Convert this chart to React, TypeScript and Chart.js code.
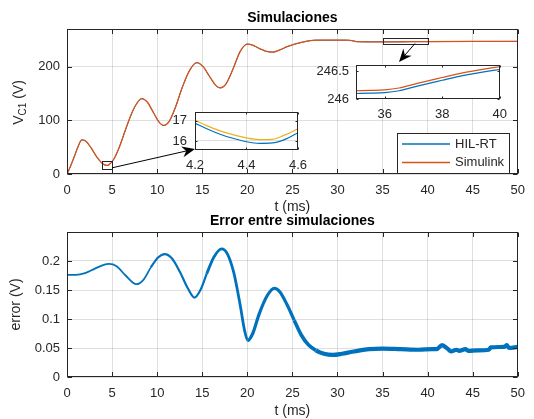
import React, { useEffect, useRef } from "react";
import { Chart, registerables } from "chart.js";
Chart.register(...registerables);

const FONT = '"Liberation Sans", Arial, Helvetica, sans-serif';
const AXIS = "#262626";
const GRID = "rgba(38,38,38,0.15)";
const BLUE = "#0072BD";
const ORANGE = "#D95319";
const YELLOW = "#EDB120";

// ---------------- data ----------------
const tMain = [0, 0.4, 0.8, 1.2, 1.64, 2.1, 2.7, 3.3, 3.9, 4.2, 4.45, 4.6, 5.2, 5.8, 6.5, 7.2, 7.8, 8.3, 8.9, 9.6, 10.2, 10.7, 11.3, 12, 12.8, 13.6, 14.4, 15.1, 15.8, 16.5, 17.0, 17.6, 18.4, 19.2, 20.0, 20.6, 21.3, 22.0, 22.8, 23.6, 24.4, 25.0, 26, 27, 27.6, 29, 31, 31.6, 32.2, 33, 35, 36.5, 38, 40, 45, 50];
const vSimulink = [0, 15, 32, 50, 63.5, 61, 48, 32, 20, 17.0, 16.05, 16.6, 28, 50, 83, 114, 133, 140.5, 134, 114, 97, 90.5, 97, 123, 162, 193, 207.5, 200, 182, 165, 160.5, 167, 195, 228, 242, 240, 234, 229, 227, 231, 237, 240.6, 245, 248.5, 249.2, 249.3, 249.2, 248.5, 246.4, 246.15, 246.15, 246.2, 246.4, 246.59, 246.85, 246.95];
const vHil = [0, 14.8, 31.8, 49.8, 63.3, 60.8, 47.8, 31.8, 19.8, 16.85, 15.88, 16.41, 27.8, 49.8, 82.8, 113.8, 132.8, 140.3, 133.8, 113.8, 96.8, 90.3, 96.8, 122.8, 161.8, 192.8, 207.3, 199.8, 181.9, 164.8, 160.3, 166.8, 194.8, 227.8, 241.9, 239.9, 233.9, 228.9, 226.9, 230.9, 236.9, 240.5, 244.9, 248.4, 249.1, 249.2, 249.15, 248.45, 246.35, 246.1, 246.1, 246.15, 246.35, 246.53, 246.8, 246.9];

const tErr = [0, 1.0, 2.0, 3.0, 4.0, 4.65, 5.5, 6.5, 7.7, 8.5, 9.3, 10.1, 10.85, 11.6, 12.5, 13.4, 14.15, 14.8, 15.5, 16.3, 17.15, 17.8, 18.5, 19.2, 19.7, 20.05, 20.6, 21.3, 22.2, 23.0, 23.6, 24.4, 25.2, 26.0, 26.8, 27.6, 28.5, 29.5, 30.5, 31.5, 32.5, 33.5, 35, 37, 39, 40.5, 41.0, 41.6, 42.2, 42.6, 43.2, 43.5, 44.2, 44.5, 45.5, 46.8, 47.0, 48.5, 48.8, 49.0, 50];
const vErr = [0.176, 0.176, 0.179, 0.186, 0.193, 0.195, 0.191, 0.175, 0.160, 0.168, 0.189, 0.206, 0.212, 0.205, 0.182, 0.153, 0.137, 0.150, 0.178, 0.207, 0.221, 0.212, 0.180, 0.125, 0.080, 0.063, 0.075, 0.108, 0.140, 0.153, 0.147, 0.125, 0.098, 0.072, 0.055, 0.046, 0.040, 0.038, 0.040, 0.043, 0.046, 0.048, 0.049, 0.048, 0.047, 0.048, 0.048, 0.055, 0.049, 0.044, 0.047, 0.045, 0.048, 0.045, 0.046, 0.047, 0.051, 0.052, 0.055, 0.050, 0.052];

const tZoomA = [4.2, 4.25, 4.3, 4.35, 4.4, 4.45, 4.5, 4.55, 4.6];
const zoomASimulink = [17.03, 16.74, 16.49, 16.3, 16.15, 16.07, 16.08, 16.3, 16.6];
const zoomAHil = [16.88, 16.58, 16.32, 16.12, 15.96, 15.88, 15.9, 16.08, 16.41];

const tZoomB = [35, 35.5, 36, 36.5, 37, 37.5, 38, 38.5, 39, 39.5, 40];
const zoomBSimulink = [246.15, 246.155, 246.165, 246.2, 246.265, 246.33, 246.39, 246.45, 246.5, 246.545, 246.585];
const zoomBHil = [246.1, 246.105, 246.115, 246.15, 246.215, 246.28, 246.34, 246.4, 246.45, 246.495, 246.535];

const xTicksMain = [0, 5, 10, 15, 20, 25, 30, 35, 40, 45, 50];
const yTicksMain = [0, 100, 200];
const yTicksErr = [0, 0.05, 0.1, 0.15, 0.2];
const xTicksZoomA = [4.2, 4.4, 4.6];
const yTicksZoomA = [16, 17];
const xTicksZoomB = [36, 38, 40];
const yTicksZoomB = [246, 246.5];

const zoomRectA = { x0: 3.85, x1: 5.0, y0: 9.3, y1: 23.7 };
const zoomRectB = { x0: 35, x1: 40, y0: 243, y1: 253.6 };

const legendLabels = ["HIL-RT", "Simulink"];

// ---------------- layout ----------------
const TOP = { left: 0, top: 0, width: 534, height: 215, area: { left: 67, top: 29, right: 527, bottom: 174 } };
const BOT = { left: 0, top: 205, width: 534, height: 214, area: { left: 67, top: 27, right: 527, bottom: 172 } };
const INA = { left: 160, top: 96, width: 155, height: 80, area: { left: 35, top: 10, right: 148, bottom: 54 } };
const INB = { left: 300, top: 50, width: 215, height: 75, area: { left: 56, top: 11, right: 206, bottom: 49 } };

const fmt = (v: number) => String(Math.round(v * 1000) / 1000);
const pts = (xs: number[], ys: number[]) => xs.map((x, i) => ({ x, y: ys[i] }));

function scaleX(min: number, max: number, ticks: number[], height: number, grid: boolean, pad: number) {
  return {
    type: "linear", min, max, position: "bottom",
    afterBuildTicks: (s: any) => { s.ticks = ticks.map((v) => ({ value: v })); },
    afterFit: (s: any) => { s.height = height; },
    grid: { display: grid, color: GRID, lineWidth: 1, drawTicks: false },
    border: { display: false },
    ticks: { padding: pad, color: AXIS, font: { family: FONT, size: 13 }, maxRotation: 0, autoSkip: false, callback: (v: any) => fmt(+v) },
  };
}
function scaleY(min: number, max: number, ticks: number[], width: number, grid: boolean, pad: number) {
  return {
    type: "linear", min, max, position: "left",
    afterBuildTicks: (s: any) => { s.ticks = ticks.map((v) => ({ value: v })); },
    afterFit: (s: any) => { s.width = width; },
    grid: { display: grid, color: GRID, lineWidth: 1, drawTicks: false },
    border: { display: false },
    ticks: { padding: pad, color: AXIS, font: { family: FONT, size: 13 }, autoSkip: false, callback: (v: any) => fmt(+v) },
  };
}

function framePlugin(tickLen: number, whiteBg: boolean) {
  return {
    id: "frame",
    beforeDraw(chart: any) {
      if (!whiteBg) return;
      const a = chart.chartArea;
      const ctx = chart.ctx;
      ctx.save();
      ctx.fillStyle = "#ffffff";
      ctx.fillRect(a.left, a.top, a.right - a.left, a.bottom - a.top);
      ctx.restore();
    },
    afterDraw(chart: any) {
      const { ctx, chartArea: a, scales } = chart;
      ctx.save();
      ctx.strokeStyle = AXIS;
      ctx.lineWidth = 1;
      const l = Math.round(a.left) + 0.5, t = Math.round(a.top) + 0.5;
      const r = Math.round(a.right) - 0.5, b = Math.round(a.bottom) - 0.5;
      ctx.beginPath();
      for (const tk of scales.x.ticks) {
        const px = Math.round(scales.x.getPixelForValue(tk.value)) + 0.5;
        ctx.moveTo(px, b); ctx.lineTo(px, b - tickLen);
        ctx.moveTo(px, t); ctx.lineTo(px, t + tickLen);
      }
      for (const tk of scales.y.ticks) {
        const py = Math.round(scales.y.getPixelForValue(tk.value)) + 0.5;
        ctx.moveTo(l, py); ctx.lineTo(l + tickLen, py);
        ctx.moveTo(r, py); ctx.lineTo(r - tickLen, py);
      }
      ctx.stroke();
      ctx.strokeRect(l, t, r - l, b - t);
      ctx.restore();
    },
  };
}

function drawArrow(ctx: CanvasRenderingContext2D, x0: number, y0: number, x1: number, y1: number) {
  const ang = Math.atan2(y1 - y0, x1 - x0);
  const L = 13, W = 5.5, back = 4;
  ctx.beginPath();
  ctx.moveTo(x0, y0);
  ctx.lineTo(x1 - Math.cos(ang) * (L - back), y1 - Math.sin(ang) * (L - back));
  ctx.stroke();
  ctx.save();
  ctx.translate(x1, y1);
  ctx.rotate(ang);
  ctx.beginPath();
  ctx.moveTo(0, 0);
  ctx.lineTo(-L, -W);
  ctx.lineTo(-L + back, 0);
  ctx.lineTo(-L, W);
  ctx.closePath();
  ctx.fill();
  ctx.restore();
}

function drawTitle(ctx: CanvasRenderingContext2D, text: string, x: number, y: number) {
  ctx.save();
  ctx.fillStyle = "#000";
  ctx.font = `bold 14px ${FONT}`;
  ctx.textAlign = "center";
  ctx.textBaseline = "middle";
  ctx.fillText(text, x, y);
  ctx.restore();
}
function drawLabel(ctx: CanvasRenderingContext2D, text: string, x: number, y: number, rotate: boolean) {
  ctx.save();
  ctx.fillStyle = AXIS;
  ctx.font = `14px ${FONT}`;
  ctx.textAlign = "center";
  ctx.textBaseline = "middle";
  ctx.translate(x, y);
  if (rotate) ctx.rotate(-Math.PI / 2);
  ctx.fillText(text, 0, 0);
  ctx.restore();
}
function drawVc1(ctx: CanvasRenderingContext2D, cx: number, cy: number) {
  ctx.save();
  ctx.translate(cx, cy);
  ctx.rotate(-Math.PI / 2);
  ctx.fillStyle = AXIS;
  const big = `14px ${FONT}`, small = `10px ${FONT}`;
  ctx.font = big;
  const w1 = ctx.measureText("V").width;
  const w3 = ctx.measureText(" (V)").width;
  ctx.font = small;
  const w2 = ctx.measureText("C1").width;
  let x = -(w1 + w2 + w3) / 2;
  ctx.textAlign = "left";
  ctx.textBaseline = "alphabetic";
  ctx.font = big; ctx.fillText("V", x, 5); x += w1;
  ctx.font = small; ctx.fillText("C1", x, 8); x += w2;
  ctx.font = big; ctx.fillText(" (V)", x, 5);
  ctx.restore();
}

const topExtras = {
  id: "topExtras",
  afterDraw(chart: any) {
    const { ctx, chartArea: a, scales } = chart;
    const sx = scales.x, sy = scales.y;
    ctx.save();
    ctx.strokeStyle = AXIS;
    ctx.lineWidth = 1;
    for (const r of [zoomRectA, zoomRectB]) {
      const x0 = sx.getPixelForValue(r.x0), x1 = sx.getPixelForValue(r.x1);
      const y0 = sy.getPixelForValue(r.y0), y1 = sy.getPixelForValue(r.y1);
      ctx.strokeRect(Math.round(x0) + 0.5, Math.round(y1) + 0.5, Math.round(x1 - x0), Math.round(y0 - y1));
    }
    ctx.strokeStyle = "#000";
    ctx.fillStyle = "#000";
    ctx.lineWidth = 1;
    drawArrow(ctx, sx.getPixelForValue(zoomRectA.x1), sy.getPixelForValue(11.5),
      INA.left + INA.area.left, INA.top + INA.area.bottom - 1);
    drawArrow(ctx, sx.getPixelForValue(38.6), sy.getPixelForValue(zoomRectB.y0),
      INB.left + INB.area.left + 43, INB.top + INB.area.top + 1);
    const lx = 397, ly = 133, lw = 112, lh = 40;
    ctx.fillStyle = "#fff";
    ctx.fillRect(lx, ly, lw, lh);
    ctx.strokeStyle = AXIS;
    ctx.strokeRect(lx + 0.5, ly + 0.5, lw, lh);
    const colors = [BLUE, ORANGE];
    ctx.font = `13px ${FONT}`;
    ctx.textBaseline = "middle";
    ctx.textAlign = "left";
    legendLabels.forEach((lab, i) => {
      const yy = ly + 11 + i * 18.5;
      ctx.strokeStyle = colors[i];
      ctx.lineWidth = 1.3;
      ctx.beginPath();
      ctx.moveTo(lx + 5, yy);
      ctx.lineTo(lx + 53, yy);
      ctx.stroke();
      ctx.fillStyle = AXIS;
      ctx.fillText(lab, lx + 58, yy);
    });
    ctx.restore();
    const cx = (a.left + a.right) / 2;
    drawTitle(ctx, "Simulaciones", cx, 18);
    drawLabel(ctx, "t (ms)", cx, 207, false);
    drawVc1(ctx, 18, (a.top + a.bottom) / 2 + 1);
  },
};

const botExtras = {
  id: "botExtras",
  afterDraw(chart: any) {
    const { ctx, chartArea: a } = chart;
    const cx = (a.left + a.right) / 2;
    drawTitle(ctx, "Error entre simulaciones", cx, 16);
    drawLabel(ctx, "t (ms)", cx, 206, false);
    drawLabel(ctx, "error (V)", 16, (a.top + a.bottom) / 2, true);
  },
};

const errBandT = [9, 15, 20, 25, 27];
const errBandW = [1.8, 2.2, 2.8, 3.2, 3.6, 4.2];
const errWidth = (x: number) => {
  let i = 0;
  while (i < errBandT.length && x >= errBandT[i]) i++;
  return errBandW[i];
};

function baseOptions(L: any, scales: any) {
  return {
    responsive: false,
    animation: false,
    devicePixelRatio: 1,
    events: [],
    layout: { padding: { top: L.area.top, right: L.width - L.area.right, left: 0, bottom: 0 } },
    plugins: { legend: { display: false }, tooltip: { enabled: false }, title: { display: false } },
    elements: { point: { radius: 0 } },
    scales,
  };
}

function lineDs(data: any, color: string, width: number, order: number, extra: any = {}) {
  return { data, borderColor: color, borderWidth: width, pointRadius: 0, fill: false, cubicInterpolationMode: "monotone", order, ...extra };
}

export default function App() {
  const rTop = useRef<HTMLCanvasElement>(null);
  const rBot = useRef<HTMLCanvasElement>(null);
  const rA = useRef<HTMLCanvasElement>(null);
  const rB = useRef<HTMLCanvasElement>(null);

  useEffect(() => {
    const charts: Chart[] = [];
    charts.push(new Chart(rTop.current!, {
      type: "line",
      data: { datasets: [lineDs(pts(tMain, vHil), BLUE, 1, 2), lineDs(pts(tMain, vSimulink), ORANGE, 1.3, 1)] },
      options: baseOptions(TOP, {
        x: scaleX(0, 50, xTicksMain, TOP.height - TOP.area.bottom, true, 9),
        y: scaleY(0, 270, yTicksMain, TOP.area.left, true, 7),
      }) as any,
      plugins: [framePlugin(4.5, false), topExtras],
    } as any));
    charts.push(new Chart(rBot.current!, {
      type: "line",
      data: { datasets: [lineDs(pts(tErr, vErr), BLUE, 1.8, 1, { segment: { borderWidth: (c: any) => errWidth(c.p0.parsed.x) } })] },
      options: baseOptions(BOT, {
        x: scaleX(0, 50, xTicksMain, BOT.height - BOT.area.bottom, true, 9),
        y: scaleY(0, 0.25, yTicksErr, BOT.area.left, true, 7),
      }) as any,
      plugins: [framePlugin(4.5, false), botExtras],
    } as any));
    charts.push(new Chart(rA.current!, {
      type: "line",
      data: { datasets: [lineDs(pts(tZoomA, zoomAHil), BLUE, 1.2, 2), lineDs(pts(tZoomA, zoomASimulink), YELLOW, 1.2, 1)] },
      options: baseOptions(INA, {
        x: scaleX(4.2, 4.6, xTicksZoomA, INA.height - INA.area.bottom, true, 8),
        y: scaleY(15.55, 17.45, yTicksZoomA, INA.area.left, true, 8),
      }) as any,
      plugins: [framePlugin(2, true)],
    } as any));
    charts.push(new Chart(rB.current!, {
      type: "line",
      data: { datasets: [lineDs(pts(tZoomB, zoomBHil), BLUE, 1.2, 2), lineDs(pts(tZoomB, zoomBSimulink), ORANGE, 1.2, 1)] },
      options: baseOptions(INB, {
        x: scaleX(35, 40, xTicksZoomB, INB.height - INB.area.bottom, false, 8),
        y: scaleY(246, 246.62, yTicksZoomB, INB.area.left, false, 7),
      }) as any,
      plugins: [framePlugin(2, true)],
    } as any));
    return () => charts.forEach((c) => c.destroy());
  }, []);

  const pos = (L: any) => ({ position: "absolute" as const, left: L.left, top: L.top });
  return (
    <div style={{ position: "absolute", left: 0, top: 0, width: 534, height: 419, background: "#fff", overflow: "hidden" }}>
      <canvas ref={rTop} width={TOP.width} height={TOP.height} style={pos(TOP)} />
      <canvas ref={rBot} width={BOT.width} height={BOT.height} style={pos(BOT)} />
      <canvas ref={rA} width={INA.width} height={INA.height} style={pos(INA)} />
      <canvas ref={rB} width={INB.width} height={INB.height} style={pos(INB)} />
    </div>
  );
}
